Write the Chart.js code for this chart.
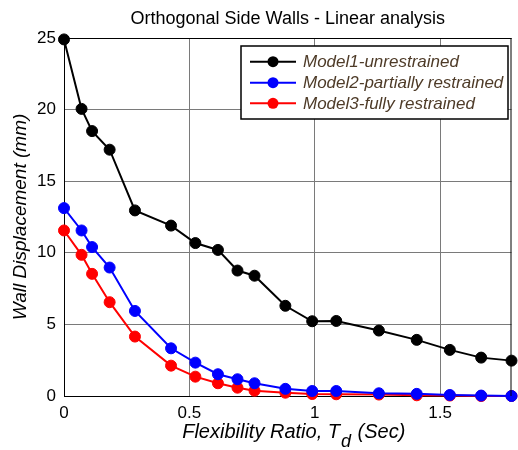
<!DOCTYPE html>
<html>
<head>
<meta charset="utf-8">
<script src="https://cdn.jsdelivr.net/npm/chart.js@4/dist/chart.umd.min.js"></script>
<style>
  html, body { margin: 0; padding: 0; background: #fff; }
  #wrap { width: 518px; height: 450px; position: relative; }
</style>
</head>
<body>
<div id="wrap"><canvas id="c" width="518" height="450"></canvas></div>
<script>
const chartTitle = "Orthogonal Side Walls - Linear analysis";
const xAxisLabel = ["Flexibility Ratio, T", "d", " (Sec)"];
const yAxisLabel = "Wall Displacement (mm)";
const seriesNames = ["Model1-unrestrained", "Model2-partially restrained", "Model3-fully restrained"];
const seriesColors = ["#000000", "#0000ff", "#ff0000"];
const xTicks = [0, 0.5, 1, 1.5];
const yTicks = [0, 5, 10, 15, 20, 25];
const flexRatio = [0, 0.07, 0.112, 0.182, 0.283, 0.427, 0.524, 0.614, 0.692, 0.76, 0.883, 0.99, 1.086, 1.256, 1.407, 1.539, 1.664, 1.785];
const model1 = [24.9, 20.05, 18.5, 17.2, 12.96, 11.9, 10.68, 10.2, 8.76, 8.4, 6.3, 5.22, 5.24, 4.57, 3.92, 3.22, 2.68, 2.47];
const model2 = [13.12, 11.56, 10.4, 8.97, 5.94, 3.33, 2.33, 1.52, 1.17, 0.89, 0.5, 0.35, 0.35, 0.19, 0.15, 0.07, 0.03, 0.0];
const model3 = [11.56, 9.86, 8.53, 6.55, 4.15, 2.12, 1.35, 0.89, 0.58, 0.37, 0.23, 0.14, 0.12, 0.10, 0.05, 0.03, 0.0, 0.0];

const seriesValues = [model1, model2, model3];
const datasets = seriesValues.map((vals, i) => ({
  label: seriesNames[i],
  data: vals.map((v, k) => ({ x: flexRatio[k], y: v })),
  borderColor: seriesColors[i],
  backgroundColor: seriesColors[i],
  pointBackgroundColor: seriesColors[i],
  pointBorderColor: seriesColors[i],
  borderWidth: 2,
  pointRadius: 5.5,
  pointBorderWidth: 1,
  tension: 0,
  clip: false
}));

const FONT = "'Liberation Sans', Arial, sans-serif";

const decorPlugin = {
  id: 'decor',
  afterDraw(chart) {
    const ctx = chart.ctx;
    const a = chart.chartArea;
    ctx.save();
    // top and right border of axes box
    ctx.strokeStyle = '#000';
    ctx.lineWidth = 1;
    ctx.beginPath();
    ctx.moveTo(a.left, a.top + 0.5);
    ctx.lineTo(a.right, a.top + 0.5);
    ctx.moveTo(a.right - 0.5, a.top);
    ctx.lineTo(a.right - 0.5, a.bottom);
    ctx.stroke();

    // title
    ctx.fillStyle = '#000';
    ctx.font = "18px " + FONT;
    ctx.textAlign = 'center';
    ctx.textBaseline = 'middle';
    ctx.fillText(chartTitle, (a.left + a.right) / 2, 19.5);

    // x axis title with subscript
    const mainFont = "italic 20px " + FONT;
    const subFont = "italic 18px " + FONT;
    ctx.font = mainFont;
    const w1 = ctx.measureText(xAxisLabel[0]).width;
    const w3 = ctx.measureText(xAxisLabel[2]).width;
    ctx.font = subFont;
    const w2 = ctx.measureText(xAxisLabel[1]).width;
    const total = w1 + w2 + w3 + 2;
    let x0 = (a.left + a.right) / 2 + 6 - total / 2;
    const base = 438;
    ctx.textAlign = 'left';
    ctx.textBaseline = 'alphabetic';
    ctx.font = mainFont;
    ctx.fillText(xAxisLabel[0], x0, base);
    ctx.font = subFont;
    ctx.fillText(xAxisLabel[1], x0 + w1 + 1, base + 9);
    ctx.font = mainFont;
    ctx.fillText(xAxisLabel[2], x0 + w1 + w2 + 2, base);

    // legend
    const lx = 241, ly = 46, lw = 267, lh = 73;
    ctx.fillStyle = '#fff';
    ctx.fillRect(lx, ly, lw, lh);
    ctx.strokeStyle = '#000';
    ctx.lineWidth = 1.5;
    ctx.strokeRect(lx, ly, lw, lh);
    const rows = [61.7, 82.7, 103.3];
    chart.data.datasets.forEach((ds, i) => {
      const y = rows[i];
      ctx.strokeStyle = ds.borderColor;
      ctx.lineWidth = 2;
      ctx.beginPath();
      ctx.moveTo(250, y);
      ctx.lineTo(296, y);
      ctx.stroke();
      ctx.fillStyle = ds.borderColor;
      ctx.beginPath();
      ctx.arc(273, y, 5.5, 0, Math.PI * 2);
      ctx.fill();
      ctx.fillStyle = '#4e3b28';
      ctx.font = "italic 17px " + FONT;
      ctx.textBaseline = 'middle';
      ctx.textAlign = 'left';
      ctx.fillText(ds.label, 303, y + 1);
    });
    ctx.restore();
  }
};

new Chart(document.getElementById('c'), {
  type: 'line',
  data: { datasets },
  options: {
    responsive: false,
    animation: false,
    devicePixelRatio: 1,
    layout: { padding: { top: 38, right: 4, left: 0, bottom: 0 } },
    plugins: {
      legend: { display: false },
      title: { display: false },
      tooltip: { enabled: false }
    },
    scales: {
      x: {
        type: 'linear',
        min: 0,
        max: 1.785,
        afterBuildTicks(scale) { scale.ticks = xTicks.map(v => ({ value: v })); },
        afterFit(scale) { scale.height = 54; },
        ticks: {
          color: '#000',
          font: { family: FONT, size: 17 },
          padding: 7,
          maxRotation: 0,
          callback: v => String(v)
        },
        grid: { color: '#7a7a7a', lineWidth: 1, drawTicks: false, tickLength: 0 },
        border: { display: true, color: '#000', width: 1 }
      },
      y: {
        type: 'linear',
        min: 0,
        max: 25,
        afterBuildTicks(scale) { scale.ticks = yTicks.map(v => ({ value: v })); },
        afterFit(scale) { scale.width = 64; },
        ticks: {
          color: '#000',
          font: { family: FONT, size: 17 },
          padding: 8,
          callback: v => String(v)
        },
        title: {
          display: true,
          text: yAxisLabel,
          color: '#000',
          font: { family: FONT, size: 19, style: 'italic' },
          padding: { top: 9, bottom: 0 }
        },
        grid: { color: '#7a7a7a', lineWidth: 1, drawTicks: false, tickLength: 0 },
        border: { display: true, color: '#000', width: 1 }
      }
    }
  },
  plugins: [decorPlugin]
});
</script>
</body>
</html>
